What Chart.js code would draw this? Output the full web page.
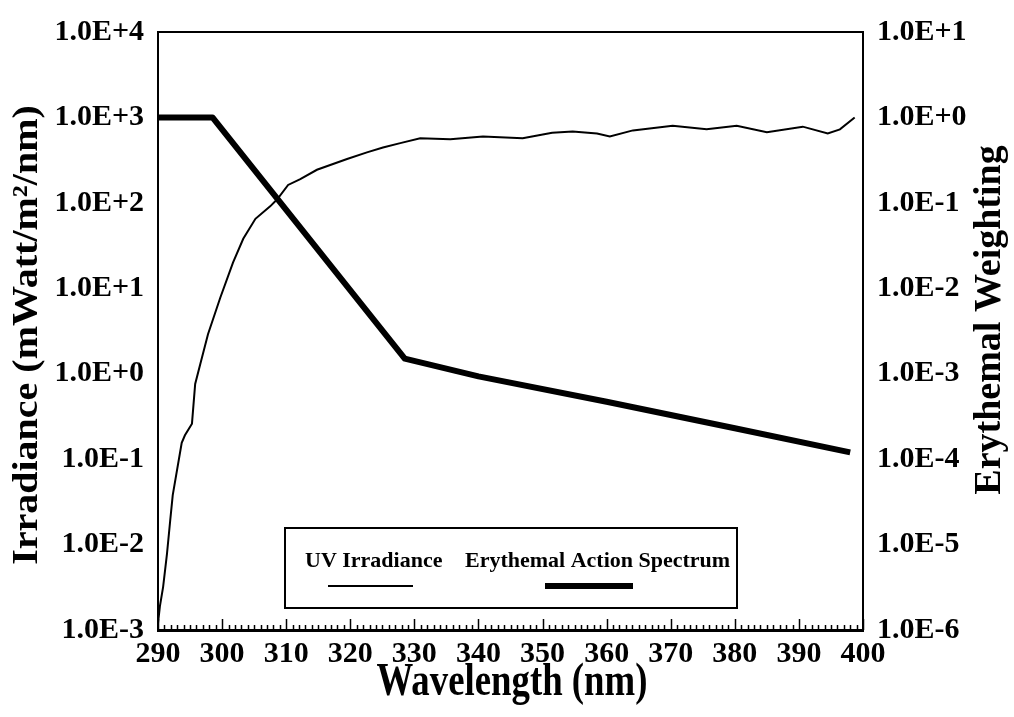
<!DOCTYPE html>
<html>
<head>
<meta charset="utf-8">
<title>UV Irradiance and Erythemal Action Spectrum</title>
<script src="https://cdn.jsdelivr.net/npm/chart.js@4.4.1/dist/chart.umd.min.js"></script>
<style>
  html, body { margin: 0; padding: 0; background: #fff; }
  #wrap { width: 1014px; height: 717px; position: relative; }
</style>
</head>
<body>
<div id="wrap"><canvas id="chart"></canvas></div>
<script>
// ─── DATA ──────────────────────────────────────────────────
// UV irradiance spectrum, mWatt/m²/nm
const uvWavelength = [
    290.0, 290.3, 290.8, 291.4, 291.9, 292.3, 293.7, 294.2, 295.3, 295.8,
    296.6, 297.8, 299.7, 301.7, 303.3, 305.2, 307.5, 308.6, 310.3, 312.2,
    314.8, 319.5, 322.6, 325.1, 327.8, 330.9, 335.6, 340.7, 346.9, 351.5,
    354.7, 358.5, 360.5, 364.1, 370.3, 375.6, 380.3, 385.0, 390.6, 394.5,
    396.4, 398.7,
];
const uvIrradiance = [
    0.0012, 0.0019, 0.0032, 0.0078, 0.019, 0.038, 0.155, 0.19, 0.26, 0.76,
    1.3, 2.9, 7.7, 20, 38, 65, 91, 110, 162, 190,
    244, 326, 390, 445, 500, 570, 555, 600, 570, 660,
    685, 650, 600, 705, 800, 725, 800, 670, 780, 650,
    725, 1000,
];

// Erythemal action spectrum (relative weighting)
const eryWavelength = [290, 298.5, 328.5, 340, 360, 380, 398];
const eryWeighting  = [1.0, 1.0, 0.0015, 0.00093, 0.00047, 0.00023, 0.00012];

// Axis ticks
const xTicks       = [290, 300, 310, 320, 330, 340, 350, 360, 370, 380, 390, 400];
const irradTicks   = [1e-3, 1e-2, 1e-1, 1e0, 1e1, 1e2, 1e3, 1e4];
const weightTicks  = [1e-6, 1e-5, 1e-4, 1e-3, 1e-2, 1e-1, 1e0, 1e1];

// ─── STYLE ─────────────────────────────────────────────────
const SERIF = "'Liberation Serif', 'Times New Roman', Times, serif";
const INK = "#000";

const toPoints = (xs, ys) => xs.map((x, i) => ({ x, y: ys[i] }));
const expLabel = v => Number(v).toExponential(1).toUpperCase();

// Inward minor/major ticks on the wavelength axis, top frame line,
// axis titles and the boxed legend.
const decorations = {
    id: "decorations",
    afterDraw(chart) {
        const { ctx, chartArea: area, scales } = chart;
        const x = scales.x;
        ctx.save();
        ctx.strokeStyle = INK;
        ctx.fillStyle = INK;

        // ticks every 1 nm, longer every 10 nm
        ctx.lineWidth = 1.5;
        for (let w = x.min; w <= x.max; w++) {
            const px = Math.round(x.getPixelForValue(w)) + 0.5;
            const len = w % 10 === 0 ? 11 : 5;
            ctx.beginPath();
            ctx.moveTo(px, area.bottom);
            ctx.lineTo(px, area.bottom - len);
            ctx.stroke();
        }

        // top frame
        ctx.lineWidth = 2;
        ctx.beginPath();
        ctx.moveTo(area.left, area.top);
        ctx.lineTo(area.right, area.top);
        ctx.stroke();

        // axis titles
        ctx.font = `bold 40px ${SERIF}`;
        ctx.textAlign = "center";
        ctx.textBaseline = "alphabetic";
        ctx.save();
        ctx.translate(37, 335);
        ctx.rotate(-Math.PI / 2);
        ctx.scale(1, 0.9);
        ctx.fillText("Irradiance (mWatt/m²/nm)", 0, 0);
        ctx.restore();

        ctx.font = `bold 38px ${SERIF}`;
        ctx.save();
        ctx.translate(1000, 320);
        ctx.rotate(-Math.PI / 2);
        ctx.fillText("Erythemal Weighting", 0, 0);
        ctx.restore();

        ctx.font = `bold 46px ${SERIF}`;
        ctx.save();
        ctx.translate(512, 695);
        ctx.scale(0.8, 1);
        ctx.fillText("Wavelength (nm)", 0, 0);
        ctx.restore();

        // legend box
        ctx.lineWidth = 2;
        ctx.strokeRect(285, 528, 452, 80);
        ctx.font = `bold 22px ${SERIF}`;
        ctx.textAlign = "left";
        ctx.fillText("UV Irradiance", 305, 567);
        ctx.fillText("Erythemal Action Spectrum", 465, 567);

        ctx.lineCap = "butt";
        ctx.lineWidth = 2;
        ctx.beginPath();
        ctx.moveTo(328, 586);
        ctx.lineTo(413, 586);
        ctx.stroke();

        ctx.lineWidth = 6;
        ctx.beginPath();
        ctx.moveTo(545, 586);
        ctx.lineTo(633, 586);
        ctx.stroke();

        ctx.restore();
    },
};

const tickFont = { family: SERIF, size: 30, weight: "bold" };

new Chart(document.getElementById("chart"), {
    type: "line",
    data: {
        datasets: [
            {
                label: "UV Irradiance",
                data: toPoints(uvWavelength, uvIrradiance),
                yAxisID: "y",
                borderColor: INK,
                borderWidth: 2,
                pointRadius: 0,
                tension: 0,
            },
            {
                label: "Erythemal Action Spectrum",
                data: toPoints(eryWavelength, eryWeighting),
                yAxisID: "y2",
                borderColor: INK,
                borderWidth: 6,
                pointRadius: 0,
                tension: 0,
                borderJoinStyle: "round",
            },
        ],
    },
    options: {
        responsive: true,
        maintainAspectRatio: false,
        animation: false,
        layout: { padding: { top: 23, left: 0, right: 0, bottom: 0 } },
        plugins: {
            legend: { display: false },
            tooltip: { enabled: false },
        },
        scales: {
            x: {
                type: "linear",
                min: 290,
                max: 400,
                afterBuildTicks: s => { s.ticks = xTicks.map(v => ({ value: v })); },
                afterFit: s => { s.height = 87; },
                grid: { display: false, drawTicks: false },
                border: { display: true, color: INK, width: 3 },
                ticks: { color: INK, font: tickFont, padding: 6, maxRotation: 0, autoSkip: false },
            },
            y: {
                type: "logarithmic",
                position: "left",
                min: 1e-3,
                max: 1e4,
                afterBuildTicks: s => { s.ticks = irradTicks.map(v => ({ value: v })); },
                afterFit: s => { s.width = 158; },
                grid: { display: false, drawTicks: false },
                border: { display: true, color: INK, width: 2 },
                ticks: { color: INK, font: tickFont, padding: 14, callback: expLabel },
            },
            y2: {
                type: "logarithmic",
                position: "right",
                min: 1e-6,
                max: 1e1,
                afterBuildTicks: s => { s.ticks = weightTicks.map(v => ({ value: v })); },
                afterFit: s => { s.width = 151; },
                grid: { display: false, drawTicks: false },
                border: { display: true, color: INK, width: 2 },
                ticks: { color: INK, font: tickFont, padding: 14, callback: expLabel },
            },
        },
    },
    plugins: [decorations],
});
</script>
</body>
</html>
